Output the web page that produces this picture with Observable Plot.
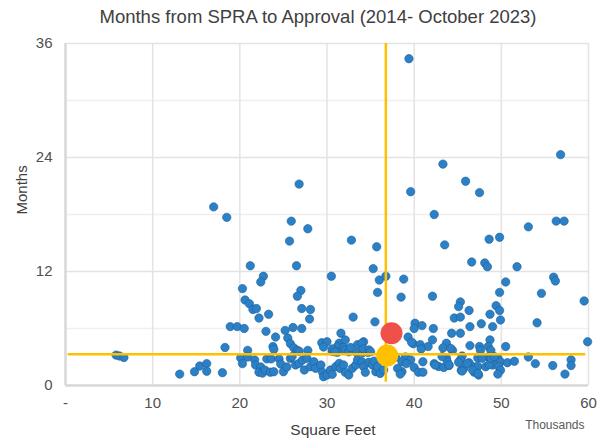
<!DOCTYPE html>
<html><head><meta charset="utf-8">
<script src="https://cdn.jsdelivr.net/npm/d3@7"></script>
<script src="https://cdn.jsdelivr.net/npm/@observablehq/plot@0.6"></script>
<style>
body{margin:0;background:#fff;font-family:"Liberation Sans",Arial,sans-serif;}
#title{width:608px;box-sizing:border-box;padding-left:28px;text-align:center;height:34px;line-height:34px;font-size:18.5px;color:#404040;}
</style></head><body>
<div id="title">Months from SPRA to Approval (2014- October 2023)</div>
<div id="chart"></div>
<script>
// Square feet (thousands) and months for each project
const sqft = [
17.0,18.5,39.4,26.8,25.9,27.8,39.6,43.3,45.9,47.5,42.3,56.8,53.1,56.3,57.2,48.6,49.8,43.5,46.6,48.1,48.4,51.8,38.8,50.5,56.0,56.2,49.8,54.6,59.5,42.1,38.5,45.3,45.1,46.3,49.4,49.8,49.9,48.7,44.6,45.3,47.7,46.4,49.0,54.1,40.1,40.0,40.9,42.2,39.3,44.3,45.3,42.1,48.7,59.9,39.9,40.7,41.6,40.8,43.7,43.3,46.4,47.5,48.5,48.8,47.6,44.4,50.5,39.7,44.2,
39.0,39.6,38.6,41.0,39.1,40.0,40.5,41.0,38.6,42.3,42.8,43.4,44.0,43.7,43.8,45.5,45.3,45.4,45.7,46.3,46.9,46.9,47.4,47.3,47.3,48.5,48.8,49.0,49.6,49.9,49.7,49.9,49.6,50.7,51.5,53.1,53.9,55.9,58.0,58.0,57.3,
37.9,38.1,38.4,42.4,43.2,44.0,45.1,45.5,46.1,46.7,47.3,47.8,48.2,48.6,48.8,49.2,
25.7,32.8,35.7,21.2,26.5,35.3,30.5,22.7,22.4,36.0,36.75,20.3,27.0,26.6,35.8,20.6,21.1,21.5,21.9,22.2,23.3,27.1,28.1,28.0,33.0,35.5,18.9,19.7,20.5,23.0,24.1,25.2,26.1,27.1,25.5,25.8,26.2,26.6,31.6,29.4,30.0,31.4,31.2,32.1,33.5,34.2,20.9,23.8,23.9,27.8,30.6,31.2,32.3,33.4,34.1,34.7,18.3,
26.8,29.6,30.6,30.9,31.9,32.1,32.5,32.7,34.0,34.2,34.8,35.0,
5.8,6.2,6.7,13.1,14.8,15.4,16.2,16.2,18.0,
20.1,20.3,20.9,21.7,21.8,22.4,22.2,22.6,22.9,23.5,23.9,23.1,23.6,24.5,24.7,25.0,25.4,25.8,
26.0,26.4,26.8,27.2,27.7,27.4,28.1,28.5,28.7,29.3,29.5,29.6,30.0,30.4,30.6,31.0,31.4,31.5,31.9,32.1,32.5,32.9,33.3,33.5,34.0,34.2,34.4,34.8,35.2,35.4,35.6,35.8,36.1,36.5
];
const months = [
18.8,17.7,34.4,21.2,17.3,16.5,20.4,23.3,21.5,20.3,18.0,24.3,16.7,17.3,17.3,15.4,15.6,14.8,13.0,12.9,12.5,12.5,11.2,10.9,11.4,11.0,9.8,9.7,8.9,9.4,9.3,8.8,8.3,7.9,8.4,7.9,6.9,7.5,7.1,7.2,6.5,6.2,6.2,6.6,6.55,6.0,6.3,6.0,5.1,5.5,5.5,4.8,4.8,4.6,4.4,4.3,4.1,3.85,4.45,3.95,4.2,4.1,4.1,3.7,3.7,3.7,4.1,4.55,3.9,
3.0,2.7,2.5,2.5,2.3,1.9,1.4,1.4,1.45,2.3,2.0,1.9,2.1,2.9,2.5,3.1,2.7,1.6,1.8,2.4,1.95,1.4,1.1,2.9,2.0,3.0,2.7,2.15,2.9,2.5,2.0,1.6,1.2,2.4,2.55,3.0,2.3,2.1,2.7,2.1,1.2,
3.0,1.8,1.2,2.16,3.04,2.16,2.44,1.52,2.33,1.63,1.27,2.86,1.98,2.2,2.86,3.04,
15.2,15.3,14.6,12.6,12.6,12.3,11.5,11.5,10.9,11.1,11.5,10.2,10.0,9.4,9.8,9.0,8.6,8.0,8.1,7.1,7.5,8.1,8.0,7.0,7.2,6.7,6.2,6.2,6.0,5.7,5.1,5.8,6.1,6.0,5.0,4.4,3.95,3.7,5.5,4.5,4.6,4.45,4.1,4.8,4.3,4.6,3.7,4.1,3.8,3.7,3.6,3.5,3.8,3.45,3.45,3.5,4.0,
3.6,4.05,3.85,3.55,4.0,3.75,3.55,4.0,4.45,3.85,3.75,3.55,
3.2,3.1,2.95,1.2,1.45,2.05,2.3,1.5,1.35,
2.9,2.3,3.0,2.7,2.15,1.95,1.4,1.3,1.6,1.4,1.45,2.8,2.8,2.8,2.25,1.45,1.95,2.85,
3.04,2.16,2.33,2.69,2.86,1.63,1.98,2.5,1.8,2.16,1.38,0.92,1.1,1.63,1.17,1.98,2.33,1.8,2.16,1.38,1.1,1.8,2.16,2.69,2.5,1.98,1.38,2.44,2.16,2.57,1.45,1.98,1.27,1.63
];
// Reference lines (averages) and highlighted points
const avgSqft = [36.75];
const avgMonths = [3.3];
const redPoint = [{x: 37.4, y: 5.5}];
const yellowPoint = [{x: 36.9, y: 3.15}];
const xTicks = [0, 10, 20, 30, 40, 50, 60];
const yTicks = [0, 12, 24, 36];
const yMinor = [6, 18, 30];

const pts = sqft.map((x, i) => ({x, y: months[i]}));

const chart = Plot.plot({
  width: 608,
  height: 409,
  marginTop: 9,
  marginLeft: 65,
  marginRight: 20,
  marginBottom: 58,
  style: {fontFamily: "'Liberation Sans', Arial, sans-serif", fontSize: "15px", color: "#505050", background: "#fff"},
  x: {domain: [0, 60]},
  y: {domain: [0, 36]},
  marks: [
    Plot.gridY(yMinor, {stroke: "#efefef", strokeOpacity: 1, strokeWidth: 1.5}),
    Plot.gridY(yTicks, {stroke: "#e3e3e3", strokeOpacity: 1, strokeWidth: 1.5}),
    Plot.gridX(xTicks, {stroke: "#e3e3e3", strokeOpacity: 1, strokeWidth: 1.5}),
    Plot.ruleX([0], {stroke: "#d9d9d9", strokeWidth: 2.5}),
    Plot.ruleY([0], {stroke: "#d9d9d9", strokeWidth: 2.5}),
    Plot.axisX(xTicks, {tickSize: 0, tickPadding: 12, tickFormat: d => d === 0 ? "-" : d, label: null, fontSize: 15}),
    Plot.axisY(yTicks, {tickSize: 0, tickPadding: 13, label: null, fontSize: 15}),
    Plot.dot(pts, {x: "x", y: "y", r: 4.2, fill: "#2b80c6", stroke: "#1c5f99", strokeWidth: 0.6}),
    Plot.ruleX(avgSqft, {y1: 0.35, y2: 36, stroke: "#FFC000", strokeWidth: 2.5}),
    Plot.ruleY(avgMonths, {x1: 0.3, x2: 59.7, stroke: "#FFC000", strokeWidth: 2.5}),
    Plot.dot(redPoint, {x: "x", y: "y", r: 11, fill: "#F0504A"}),
    Plot.dot(yellowPoint, {x: "x", y: "y", r: 11, fill: "#FFC000"}),
    Plot.text(["Months"], {frameAnchor: "left", dx: -43, rotate: -90, fontSize: 15, fill: "#404040"}),
    Plot.text(["Square Feet"], {frameAnchor: "bottom", dx: 6, dy: 49, fontSize: 15.5, fill: "#404040"}),
    Plot.text(["Thousands"], {frameAnchor: "bottom-right", textAnchor: "end", dx: -4, dy: 43, fontSize: 12, fill: "#595959"})
  ]
});
document.getElementById("chart").appendChild(chart);
</script>
</body></html>
